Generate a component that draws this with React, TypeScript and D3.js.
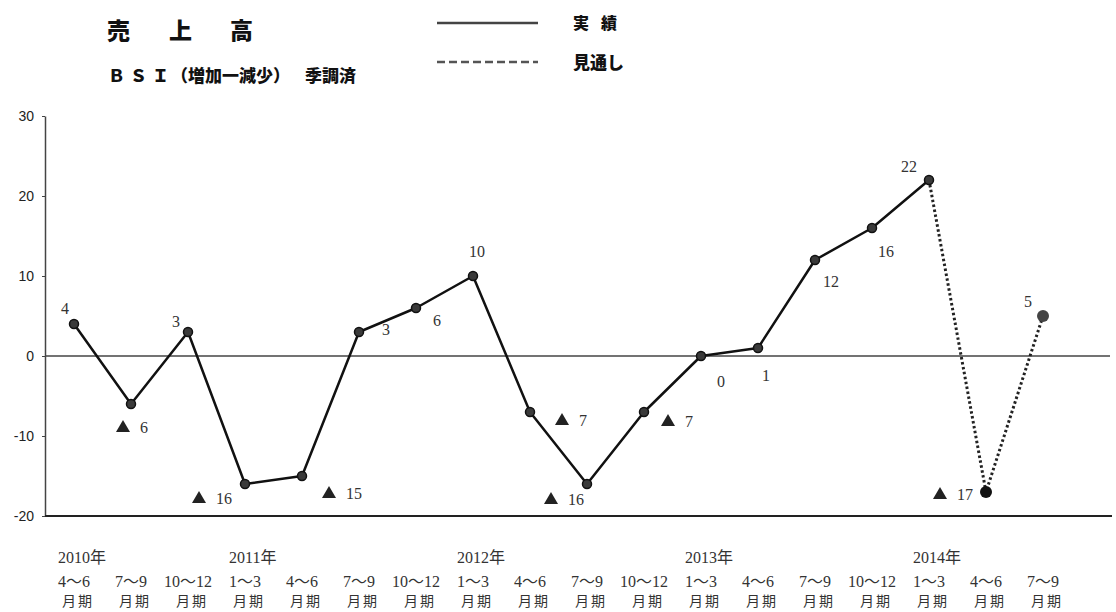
import React, { useEffect, useRef } from "react";
import * as d3 from "d3";

const W = 1116;
const H = 612;

// Quarter periods along the x axis
const periods = [
  "4〜6", "7〜9", "10〜12",
  "1〜3", "4〜6", "7〜9", "10〜12",
  "1〜3", "4〜6", "7〜9", "10〜12",
  "1〜3", "4〜6", "7〜9", "10〜12",
  "1〜3", "4〜6", "7〜9",
];
const years = ["2010年", "2011年", "2012年", "2013年", "2014年"];
const yearStart = [0, 3, 7, 11, 15];

// BSI results (実績) and outlook (見通し)
const actual = [4, -6, 3, -16, -15, 3, 6, 10, -7, -16, -7, 0, 1, 12, 16, 22];
const outlook = [-17, 5];

const yTicks = [30, 20, 10, 0, -10, -20];

// Placement of each value label relative to its point
const labelOffsets: [number, number][] = [
  [-9, -16], [-8, 23], [-12, -11], [-46, 14], [27, 17], [27, -3],
  [21, 12], [4, -25], [32, 8], [-36, 15], [24, 9], [20, 25],
  [8, 27], [16, 21], [14, 23], [-20, -14], [-46, 2], [-15, -15],
];

const SERIF = "'Liberation Serif', 'DejaVu Serif', 'Noto Sans CJK JP', serif";
const GOTHIC = "'Noto Sans CJK JP', 'Liberation Sans', sans-serif";

export default function App() {
  const ref = useRef<SVGSVGElement>(null);

  useEffect(() => {
    const svg = d3.select(ref.current);
    svg.selectAll("*").remove();

    const x = d3
      .scalePoint<number>()
      .domain(d3.range(periods.length))
      .range([74, 1043]);
    const y = d3.scaleLinear().domain([-20, 30]).range([516, 116]);

    // Title and legend
    svg.append("text")
      .attr("x", "107 169 230")
      .attr("y", 39)
      .attr("font-family", GOTHIC)
      .attr("font-weight", 900)
      .attr("font-size", 23)
      .attr("fill", "#111")
      .text("売上高");

    svg.append("text")
      .attr("x", "108 130 152")
      .attr("y", 82)
      .attr("font-family", GOTHIC)
      .attr("font-weight", 900)
      .attr("font-size", 17)
      .attr("fill", "#111")
      .text("ＢＳＩ");
    svg.append("text")
      .attr("x", 171)
      .attr("y", 82)
      .attr("font-family", GOTHIC)
      .attr("font-weight", 900)
      .attr("font-size", 17)
      .attr("fill", "#111")
      .text("（増加一減少）");
    svg.append("text")
      .attr("x", 305)
      .attr("y", 82)
      .attr("font-family", GOTHIC)
      .attr("font-weight", 900)
      .attr("font-size", 17)
      .attr("fill", "#111")
      .text("季調済");

    svg.append("line")
      .attr("x1", 437).attr("x2", 538).attr("y1", 23).attr("y2", 23)
      .attr("stroke", "#444").attr("stroke-width", 2.5);
    svg.append("line")
      .attr("x1", 437).attr("x2", 538).attr("y1", 62).attr("y2", 62)
      .attr("stroke", "#555").attr("stroke-width", 2.5)
      .attr("stroke-dasharray", "8 4");
    svg.append("text")
      .attr("x", "573 601")
      .attr("y", 29)
      .attr("font-family", GOTHIC)
      .attr("font-weight", 900)
      .attr("font-size", 16)
      .attr("fill", "#111")
      .text("実績");
    svg.append("text")
      .attr("x", 573)
      .attr("y", 69)
      .attr("font-family", GOTHIC)
      .attr("font-weight", 900)
      .attr("font-size", 17)
      .attr("fill", "#111")
      .text("見通し");

    // Y axis
    const yAxis = d3
      .axisLeft(y)
      .tickValues(yTicks)
      .tickSize(3)
      .tickSizeOuter(0)
      .tickPadding(8)
      .tickFormat((d) => String(d));
    const gy = svg.append("g").attr("transform", "translate(45,0)").call(yAxis);
    gy.select(".domain").attr("stroke", "#444").attr("stroke-width", 1.5);
    gy.selectAll(".tick line").attr("stroke", "#444");
    gy.selectAll(".tick text")
      .attr("font-family", "'Liberation Sans', Arial, sans-serif")
      .attr("font-size", 14)
      .attr("fill", "#222");

    // Zero line and bottom line
    svg.append("line")
      .attr("x1", 45).attr("x2", 1110)
      .attr("y1", y(0)).attr("y2", y(0))
      .attr("stroke", "#444").attr("stroke-width", 1.5);
    svg.append("line")
      .attr("x1", 45).attr("x2", 1112)
      .attr("y1", y(-20)).attr("y2", y(-20))
      .attr("stroke", "#222").attr("stroke-width", 2);

    // Outlook dotted line (from last result)
    const lastIdx = actual.length - 1;
    const outlookPts: [number, number][] = [
      [lastIdx, actual[lastIdx]],
      ...outlook.map((v, i) => [lastIdx + 1 + i, v] as [number, number]),
    ];
    const line = d3
      .line<[number, number]>()
      .x((d) => x(d[0]) as number)
      .y((d) => y(d[1]));
    svg.append("path")
      .attr("d", line(outlookPts))
      .attr("fill", "none")
      .attr("stroke", "#222")
      .attr("stroke-width", 3)
      .attr("stroke-dasharray", "2.5 2.5");

    // Results line
    const actualPts = actual.map((v, i) => [i, v] as [number, number]);
    svg.append("path")
      .attr("d", line(actualPts))
      .attr("fill", "none")
      .attr("stroke", "#111")
      .attr("stroke-width", 2.5)
      .attr("stroke-linejoin", "round");

    svg.append("g")
      .selectAll("circle")
      .data(actualPts)
      .join("circle")
      .attr("cx", (d) => x(d[0]) as number)
      .attr("cy", (d) => y(d[1]))
      .attr("r", 4.5)
      .attr("fill", "#3a3a3a")
      .attr("stroke", "#111")
      .attr("stroke-width", 1.5);

    svg.append("g")
      .selectAll("circle")
      .data(outlookPts.slice(1))
      .join("circle")
      .attr("cx", (d) => x(d[0]) as number)
      .attr("cy", (d) => y(d[1]))
      .attr("r", 6)
      .attr("fill", (d, i) => (i === 0 ? "#111" : "#444"));

    // Value labels (negative values marked with ▲)
    const allVals = [...actual, ...outlook];
    const tri = d3.symbol(d3.symbolTriangle, 85)();
    const lg = svg.append("g");
    allVals.forEach((v, i) => {
      const px = x(i) as number;
      const py = y(v);
      const [dx, dy] = labelOffsets[i];
      if (v < 0) {
        lg.append("path")
          .attr("d", tri)
          .attr("transform", `translate(${px + dx},${py + dy + 1})`)
          .attr("fill", "#222");
        lg.append("text")
          .attr("x", px + dx + 17)
          .attr("y", py + dy)
          .attr("dominant-baseline", "central")
          .attr("font-family", SERIF)
          .attr("font-size", 16)
          .attr("fill", "#333")
          .text(String(Math.abs(v)));
      } else {
        lg.append("text")
          .attr("x", px + dx)
          .attr("y", py + dy)
          .attr("text-anchor", "middle")
          .attr("dominant-baseline", "central")
          .attr("font-family", SERIF)
          .attr("font-size", 16)
          .attr("fill", "#333")
          .text(String(v));
      }
    });

    // X axis labels
    const xg = svg.append("g")
      .attr("font-family", SERIF)
      .attr("fill", "#333");
    xg.selectAll("text.q")
      .data(periods)
      .join("text")
      .attr("class", "q")
      .attr("x", (_, i) => x(i) as number)
      .attr("y", 581)
      .attr("text-anchor", "middle")
      .attr("dominant-baseline", "central")
      .attr("font-size", 16)
      .text((d) => d);
    xg.selectAll("text.m")
      .data(periods)
      .join("text")
      .attr("class", "m")
      .attr("x", (_, i) => (x(i) as number) + 4)
      .attr("y", 600)
      .attr("text-anchor", "middle")
      .attr("dominant-baseline", "central")
      .attr("font-family", GOTHIC)
      .attr("font-size", 14)
      .attr("letter-spacing", 2)
      .text("月期");

    // Year labels aligned with the left edge of their first quarter label
    const qNodes = xg.selectAll<SVGTextElement, string>("text.q").nodes();
    xg.selectAll("text.y")
      .data(years)
      .join("text")
      .attr("class", "y")
      .attr("x", (_, i) => {
        const n = qNodes[yearStart[i]];
        return n ? n.getBBox().x : (x(yearStart[i]) as number) - 17;
      })
      .attr("y", 557)
      .attr("dominant-baseline", "central")
      .attr("font-size", 16)
      .text((d) => d);
  }, []);

  return (
    <div style={{ position: "absolute", left: 0, top: 0 }}>
      <svg
        ref={ref}
        width={W}
        height={H}
        viewBox={`0 0 ${W} ${H}`}
        style={{ display: "block", background: "#fff" }}
      />
    </div>
  );
}
